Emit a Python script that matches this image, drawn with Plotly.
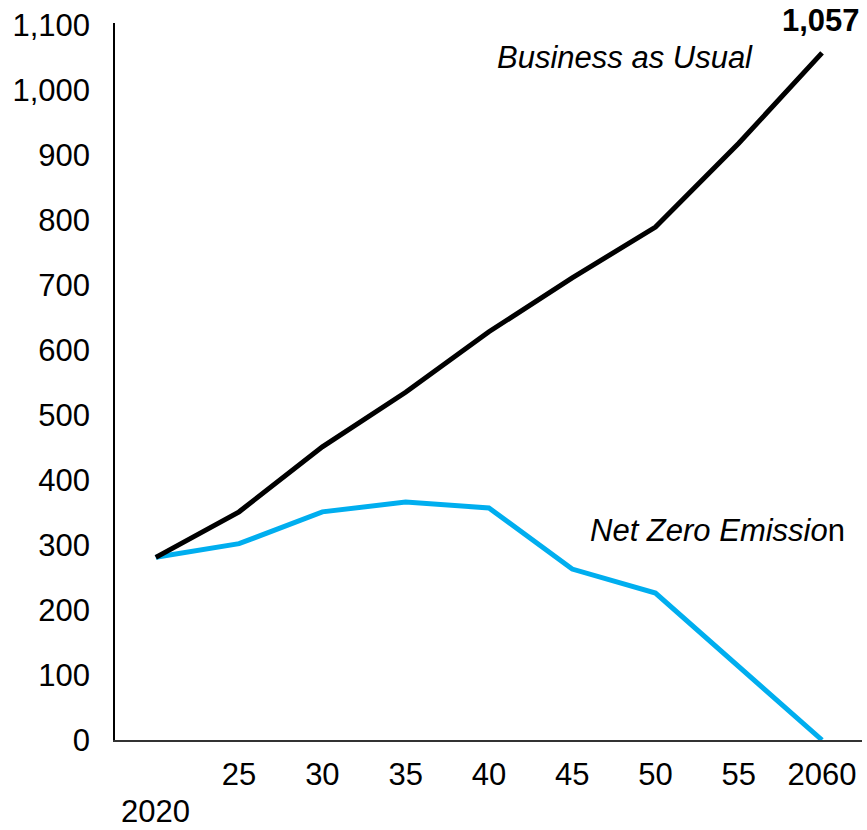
import plotly.graph_objects as go

# Years on the category axis and their tick labels
years = ["2020", "2025", "2030", "2035", "2040", "2045", "2050", "2055", "2060"]
tick_labels = ["", "25", "30", "35", "40", "45", "50", "55", "2060"]

# Emission pathways
bau = [281, 351, 451, 535, 628, 711, 789, 918, 1057]
nze = [281, 302, 351, 366, 357, 263, 226, 114, 0]

y_ticks = list(range(0, 1101, 100))

FONT = "Liberation Sans, Arial, sans-serif"
SIZE = 31

W, H = 867, 830
ML, MR, MT, MB = 115, 5, 23, 90
pw, ph = W - ML - MR, H - MT - MB


def px_x(px):
    return (px - ML) / pw


def px_y(py):
    return (H - MB - py) / ph


fig = go.Figure()
fig.add_trace(go.Scatter(
    x=years, y=nze, mode="lines", name="Net Zero Emission",
    line=dict(color="#00AEEF", width=5), cliponaxis=False,
))
fig.add_trace(go.Scatter(
    x=years, y=bau, mode="lines", name="Business as Usual",
    line=dict(color="#000000", width=5), cliponaxis=False,
))

last = len(years) - 1
annotations = [
    # end value of the business-as-usual path
    dict(x=last, y=bau[last], xref="x", yref="y", text=f"<b>{bau[last]:,}</b>",
         showarrow=False, yshift=32, xshift=-1),
    dict(x=px_x(755), y=px_y(58), xref="paper", yref="paper",
         text="<i>Business as Usual</i>", showarrow=False,
         xanchor="right", yanchor="middle"),
    # first year label sits one row below the others
    dict(x=0, y=px_y(811), xref="x", yref="paper", text=years[0],
         showarrow=False, yanchor="middle", borderpad=0),
    dict(x=px_x(847), y=px_y(530), xref="paper", yref="paper",
         text="<i>Net Zero Emissio</i>n", showarrow=False,
         xanchor="right", yanchor="middle"),
]
for a in annotations:
    a["font"] = dict(family=FONT, size=SIZE, color="black")

fig.update_layout(
    width=W, height=H,
    margin=dict(l=ML, r=MR, t=MT, b=MB),
    paper_bgcolor="white", plot_bgcolor="white",
    showlegend=False,
    font=dict(family=FONT, size=SIZE, color="black"),
    annotations=annotations,
)
fig.update_xaxes(
    type="category", range=[-0.49, 8.48],
    tickmode="array", tickvals=years, ticktext=tick_labels,
    showline=True, linecolor="#333333", linewidth=2,
    showgrid=False, zeroline=False, ticks="", ticklabelstandoff=6,
    tickfont=dict(family=FONT, size=SIZE, color="black"),
)
fig.update_yaxes(
    range=[0, 1103], tickvals=y_ticks, tickformat=",",
    showline=True, linecolor="black", linewidth=1.5,
    showgrid=False, zeroline=False, ticks="", ticklabelstandoff=17,
    tickfont=dict(family=FONT, size=SIZE, color="black"),
)

fig.write_html("out.html")
